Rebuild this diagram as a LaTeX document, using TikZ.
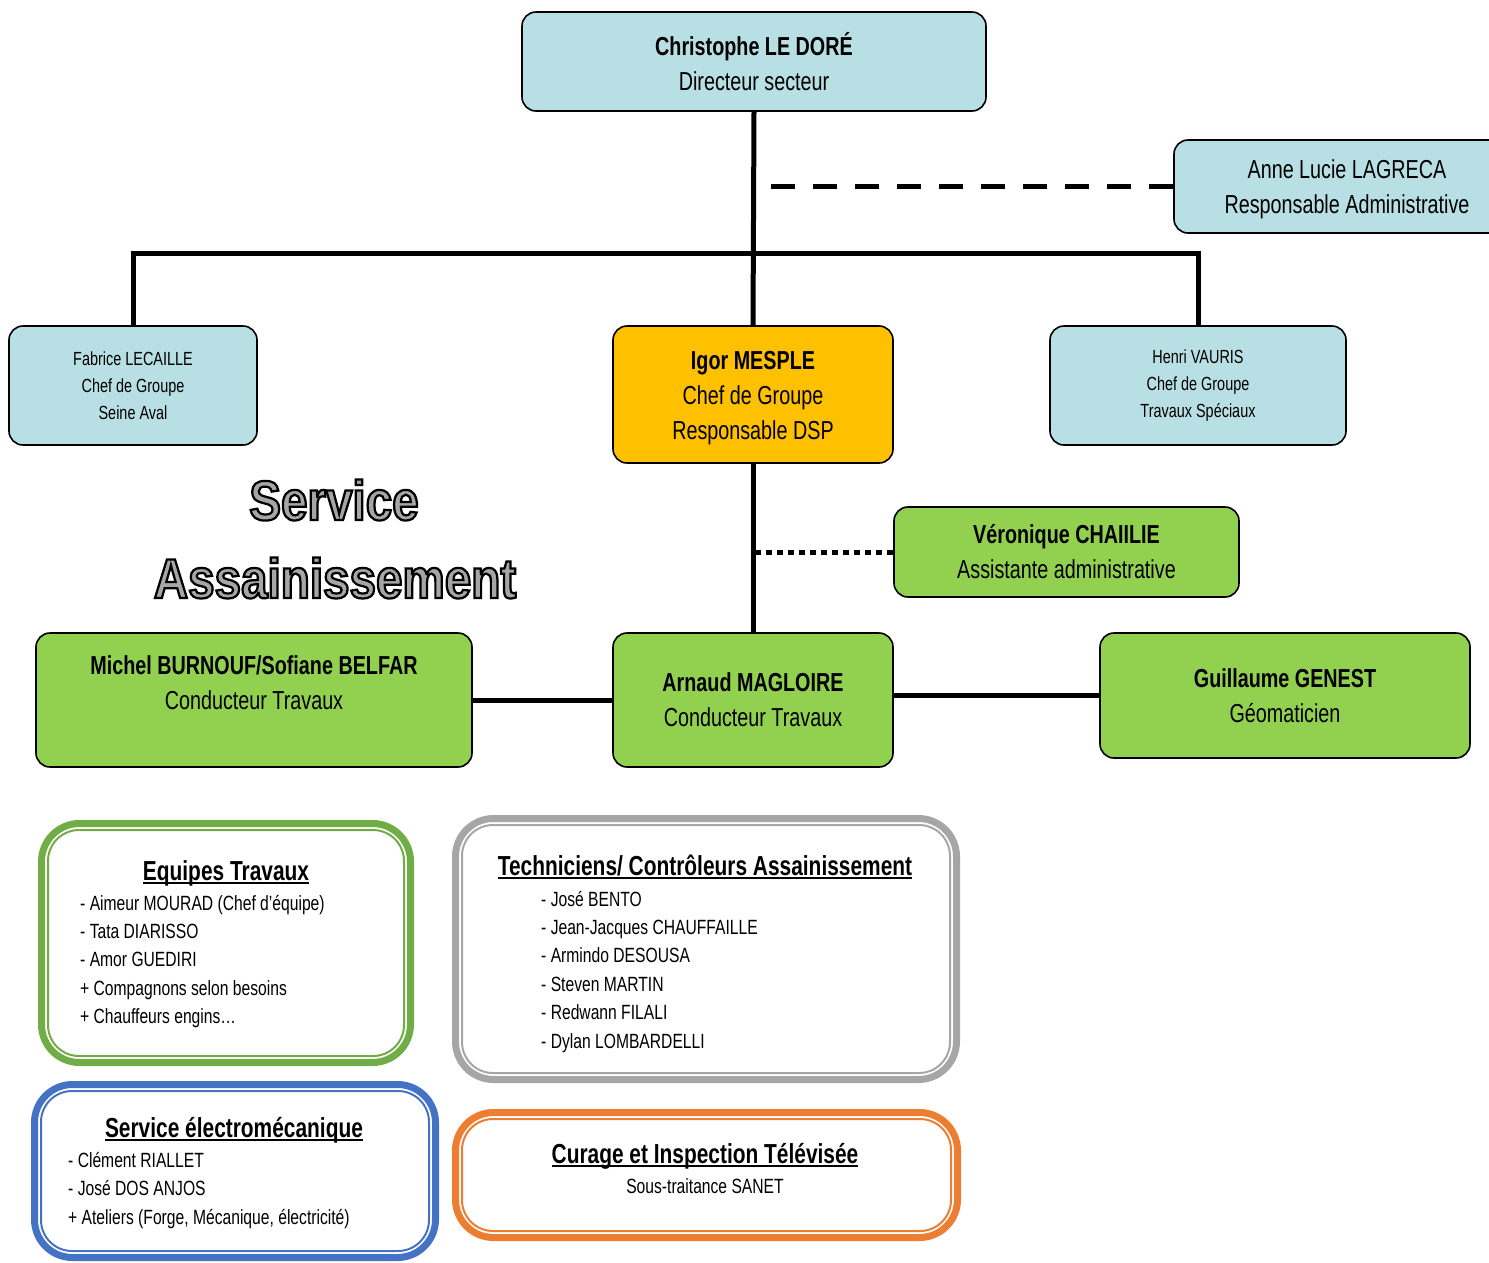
\documentclass[tikz,border=0pt]{standalone}
\usepackage{fontspec}
\setmainfont{Liberation Sans}[FakeStretch=0.76]
\newfontfamily\blackfont{Liberation Sans Bold}[FakeStretch=0.85,FakeBold=4]
\definecolor{boxblue}{HTML}{B8DFE3}
\definecolor{boxgreen}{HTML}{92D050}
\definecolor{boxgold}{HTML}{FFC000}
\definecolor{frgreen}{HTML}{70AD47}
\definecolor{frgray}{HTML}{A6A6A6}
\definecolor{frblue}{HTML}{4472C4}
\definecolor{frorange}{HTML}{ED7D31}
\definecolor{txtgray}{HTML}{A6A6A6}
\newcommand\ulx[1]{\setbox0=\hbox{#1}\rlap{\rule[-4pt]{\wd0}{1.8pt}}\box0}
\newcommand\outl[1]{{\color{txtgray}\special{pdf:code 0 0 0 RG}#1}}
\tikzset{
  pbox/.style={draw=black, line width=1.6pt, rounded corners=14pt, align=center, inner sep=0pt},
  bigtxt/.style={font=\fontsize{26}{35}\selectfont},
  smalltxt/.style={font=\fontsize{19}{27}\selectfont},
  conn/.style={line width=5pt},
  frameout/.style={line width=7pt, rounded corners=38pt, inner sep=0pt},
  framein/.style={line width=2pt, rounded corners=31pt, inner sep=0pt},
  ftitle/.style={font=\bfseries\fontsize{27.5}{30}\selectfont, anchor=base, inner sep=0pt},
  fitem/.style={font=\fontsize{20.6}{24}\selectfont, anchor=base west, inner sep=0pt},
  bigtitle/.style={font=\blackfont\fontsize{56}{60}\selectfont},
}
\begin{document}
\begin{tikzpicture}[x=1pt,y=-1pt]
\useasboundingbox (0,0) rectangle (1489,1262);
% top boxes
\node[pbox, bigtxt, fill=boxblue, minimum width=464pt, minimum height=99pt] (chr) at (754,61.5) {{\bfseries Christophe LE DORÉ}\\Directeur secteur};
\node[pbox, bigtxt, fill=boxblue, minimum width=346pt, minimum height=93pt] (anne) at (1347,186.5) {\rule{0pt}{24pt}Anne Lucie LAGRECA\\Responsable Administrative};
\node[pbox, smalltxt, fill=boxblue, minimum width=248pt, minimum height=119pt] (fab) at (133,385.5) {Fabrice LECAILLE\\Chef de Groupe\\Seine Aval};
\node[pbox, bigtxt, fill=boxgold, minimum width=280pt, minimum height=137pt] (igor) at (753,394.5) {\rule{0pt}{25pt}{\bfseries Igor MESPLE}\\Chef de Groupe\\Responsable DSP};
\node[pbox, smalltxt, fill=boxblue, minimum width=296pt, minimum height=119pt] (hen) at (1198,385.5) {Henri VAURIS\\Chef de Groupe\\Travaux Spéciaux};
\node[pbox, bigtxt, fill=boxgreen, minimum width=345pt, minimum height=90pt] (ver) at (1066.5,552) {{\bfseries Véronique CHAIILIE}\\Assistante administrative};
\node[pbox, bigtxt, fill=boxgreen, minimum width=436pt, minimum height=134pt] (mich) at (254,700) {{\bfseries Michel BURNOUF/Sofiane BELFAR}\\Conducteur Travaux\\~};
\node[pbox, bigtxt, fill=boxgreen, minimum width=280pt, minimum height=134pt] (arn) at (753,700) {{\bfseries Arnaud MAGLOIRE}\\Conducteur Travaux};
\node[pbox, bigtxt, fill=boxgreen, minimum width=370pt, minimum height=125pt] (gui) at (1285,695.5) {{\bfseries Guillaume GENEST}\\Géomaticien};
% service title
\node[bigtitle] (svc) at (334,500) {\outl{Service}};
\node[bigtitle] (ass) at (335,578) {\outl{Assainissement}};
% connectors
\coordinate (bus) at (0,253);
\coordinate (dstart) at (771,186.5);
\draw[conn] (chr.south) -- (igor.north);
\draw[conn] (fab.north) -- (fab.north |- bus) -- (hen.north |- bus) -- (hen.north);
\draw[conn, dash pattern=on 24pt off 18pt] (dstart) -- (anne.west);
\draw[conn, dash pattern=on 6pt off 5pt] (ver.west) -- (ver.west -| igor.south);
\draw[conn] (igor.south) -- (arn.north);
\draw[conn] (mich.east) -- (arn.west);
\draw[conn] (gui.west) -- (gui.west -| arn.east);
% frames
\node[draw=frgreen, frameout, minimum width=369pt, minimum height=239pt] (eqo) at (226,943) {};
\node[draw=frgreen, framein, minimum width=356pt, minimum height=226pt] (eqi) at (226,943) {};
\node[draw=frgray, frameout, minimum width=501pt, minimum height=261pt] (teo) at (706,949) {};
\node[draw=frgray, framein, minimum width=488pt, minimum height=248pt] (tei) at (706,949) {};
\node[draw=frblue, frameout, minimum width=401pt, minimum height=173pt] (elo) at (235,1171) {};
\node[draw=frblue, framein, minimum width=388pt, minimum height=160pt] (eli) at (235,1171) {};
\node[draw=frorange, frameout, minimum width=502pt, minimum height=125pt] (cuo) at (706.5,1175) {};
\node[draw=frorange, framein, minimum width=489pt, minimum height=112pt] (cui) at (706.5,1175) {};
% frame texts
\node[ftitle] (eqt) at (226,880) {\ulx{Equipes Travaux}};
\node[fitem] (eq1) at (80,910) {- Aimeur MOURAD (Chef d’équipe)};
\node[fitem] (eq2) at (80,938.3) {- Tata DIARISSO};
\node[fitem] (eq3) at (80,966.6) {- Amor GUEDIRI};
\node[fitem] (eq4) at (80,995) {+ Compagnons selon besoins};
\node[fitem] (eq5) at (80,1023.3) {+ Chauffeurs engins\ldots};
\node[ftitle] (tet) at (705,875) {\ulx{Techniciens/ Contrôleurs Assainissement}};
\node[fitem] (te1) at (541,906) {- José BENTO};
\node[fitem] (te2) at (541,934.4) {- Jean-Jacques CHAUFFAILLE};
\node[fitem] (te3) at (541,962.8) {- Armindo DESOUSA};
\node[fitem] (te4) at (541,991.2) {- Steven MARTIN};
\node[fitem] (te5) at (541,1019.6) {- Redwann FILALI};
\node[fitem] (te6) at (541,1048) {- Dylan LOMBARDELLI};
\node[ftitle] (elt) at (234,1137) {\ulx{Service électromécanique}};
\node[fitem] (el1) at (68,1167) {- Clément RIALLET};
\node[fitem] (el2) at (68,1195.5) {- José DOS ANJOS};
\node[fitem] (el3) at (68,1224) {+ Ateliers (Forge, Mécanique, électricité)};
\node[ftitle] (cut) at (705,1163) {\ulx{Curage et Inspection Télévisée}};
\node[fitem, anchor=base] (cu1) at (705,1193) {Sous-traitance SANET};
\end{tikzpicture}
\end{document}
